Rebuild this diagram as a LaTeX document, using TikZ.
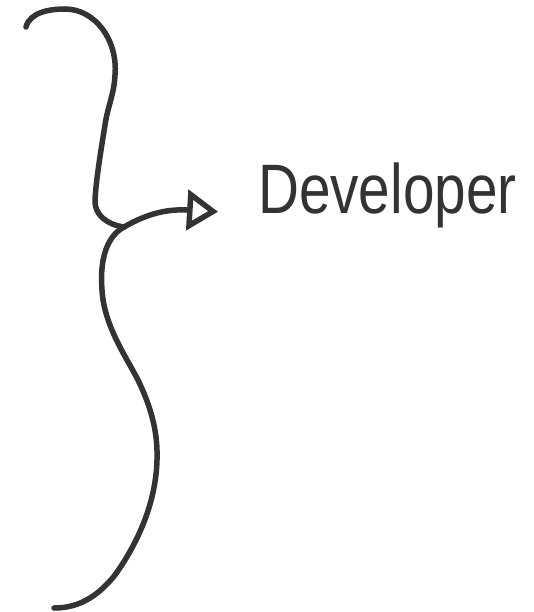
\documentclass[tikz,border=0pt]{standalone}
\usepackage{fontspec}
\setmainfont{Liberation Sans}
\usetikzlibrary{arrows.meta}
\definecolor{ink}{HTML}{333333}

\tikzset{
  pen/.style={draw=ink, line width=5.5pt, line cap=round, line join=round},
  label/.style={text=ink, inner sep=0pt, font=\fontsize{70}{70}\selectfont, xscale=0.81}
}

\begin{document}
\begin{tikzpicture}[x=1pt, y=-1pt]
\useasboundingbox (0,0) rectangle (533,612);
\coordinate (join) at (124,227);
\node[label, anchor=base west] (dev) at (258,214) {Developer};
% upper half of the brace
\draw[pen] (26,27) .. controls (30,12) and (50,9) .. (65,9)
  .. controls (95,9) and (118,40) .. (115,75)
  .. controls (114,95) and (108,105) .. (105,125)
  .. controls (101,150) and (96,180) .. (95,200)
  .. controls (94,215) and (108,225) .. (join);
% lower half of the brace
\draw[pen] (join) .. controls (104,238) and (100,265) .. (102,290)
  .. controls (104,325) and (125,355) .. (138,380)
  .. controls (150,405) and (158,430) .. (157,460)
  .. controls (156,500) and (140,540) .. (115,575)
  .. controls (95,600) and (75,608) .. (54,608);
% pointer to the label
\draw[pen, -{Triangle[open, length=31pt, width=40pt]}, shorten >=40pt]
  (join) .. controls (150,212) and (170,209) .. (dev.base west);
\end{tikzpicture}
\end{document}
